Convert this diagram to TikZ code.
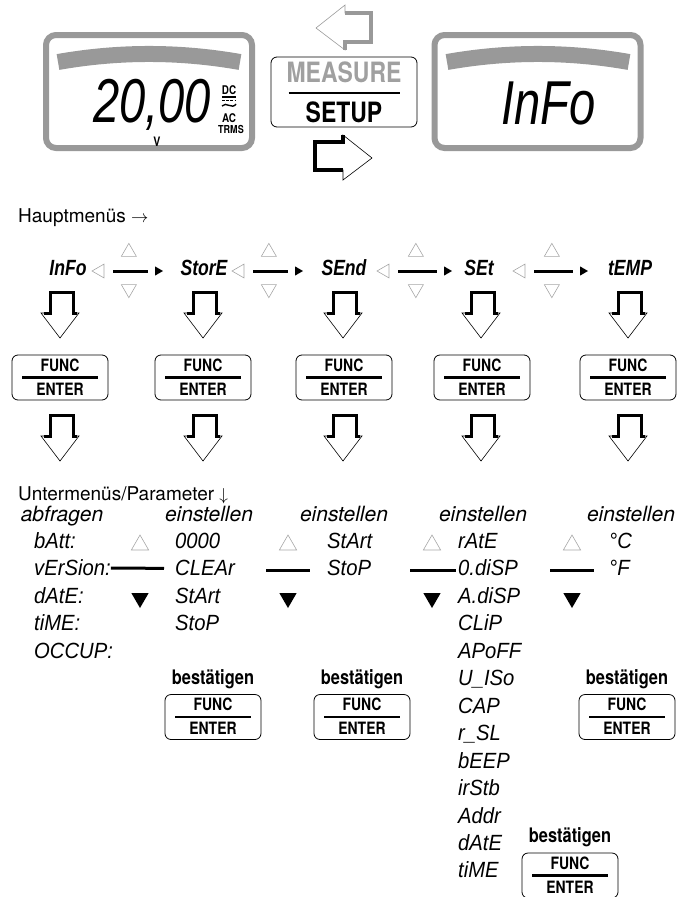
\documentclass[tikz,border=0pt]{standalone}
\usepackage{fontspec}
\setmainfont{TeX Gyre Heros}
\newfontfamily\keyfont{TeX Gyre Heros}[FakeStretch=0.82]
\newfontfamily\segfont{Liberation Sans}[FakeStretch=0.92]
\newfontfamily\menufont{Liberation Sans}[FakeStretch=0.8]
\newfontfamily\lcdfont{Liberation Sans}[FakeStretch=0.76]
\usetikzlibrary{positioning,calc,shapes.geometric}
\definecolor{lcdgray}{HTML}{999999}
\definecolor{trigray}{HTML}{A6A6A6}
\definecolor{capgray}{HTML}{A0A0A0}
\tikzset{
  lcd/.style={draw=lcdgray, line width=6pt, rounded corners=10pt, minimum width=206pt, minimum height=113pt, inner sep=0pt},
  lcdbar/.style={draw=lcdgray, line width=16pt},
  lcdtxt/.style={font={\lcdfont\itshape\fontsize{62}{62}\selectfont}, inner sep=0pt, anchor=base west},
  ind/.style={font={\keyfont\bfseries\fontsize{12}{12}\selectfont}, inner sep=0pt},
  modebox/.style={draw, line width=0.8pt, rounded corners=6pt, minimum width=146pt, minimum height=70pt, inner sep=0pt},
  captxt/.style={font={\keyfont\bfseries\fontsize{28}{28}\selectfont}, inner sep=1.5pt},
  keybtn/.style={draw, line width=0.8pt, rounded corners=6pt, minimum width=96pt, minimum height=45pt, inner sep=0pt},
  keyrule/.style={line width=2.8pt},
  keytxt/.style={font={\keyfont\bfseries\fontsize{17}{17}\selectfont}, inner sep=1.5pt},
  menu/.style={font={\menufont\bfseries\itshape\fontsize{22}{22}\selectfont}, inner sep=0pt},
  sub/.style={font={\segfont\itshape\fontsize{22}{22}\selectfont}, inner sep=0pt, anchor=base west},
  head/.style={font={\fontsize{19}{19}\selectfont}, inner sep=0pt, anchor=base west},
  mode/.style={font={\itshape\fontsize{21}{21}\selectfont}, inner sep=0pt, anchor=base},
  okay/.style={font={\keyfont\bfseries\fontsize{20}{20}\selectfont}, inner sep=0pt, anchor=base},
  link/.style={line width=3pt},
  tri/.style={regular polygon, regular polygon sides=3, inner sep=0pt},
  tril/.style={tri, shape border rotate=90, draw=trigray, line width=0.6pt, minimum size=16pt},
  trir/.style={tri, shape border rotate=-90, fill=black, minimum size=10.6pt},
  triu/.style={tri, draw=trigray, line width=0.6pt, minimum size=17.3pt},
  trid/.style={tri, shape border rotate=180, draw=trigray, line width=0.6pt, minimum size=17.3pt},
  subu/.style={tri, draw=trigray, line width=0.6pt, minimum size=20pt},
  subd/.style={tri, shape border rotate=180, fill=black, minimum size=20pt},
  pics/steparr/.style={code={
    \draw[line width=0.6pt] (-19,21) -- (-10,21) -- (-10,0) -- (13,0) -- (13,21) -- (19,21) -- (0,46) -- cycle;
    \draw[line width=3pt] (-16,21) -- (-10,21) -- (-10,0) -- (13,0) -- (13,21) -- (17,21);
  }},
}

\begin{document}
\begin{tikzpicture}[x=1pt, y=-1pt]
  \useasboundingbox (0,0) rectangle (677,897);

  % displays and mode key
  \node[lcd] (lcdl) at (149,91.5) {};
  \draw[lcdbar] (58,62) .. controls (119,51.3) and (179,51.3) .. (240,62);
  \node[lcdtxt] (val) at (93,122) {20,00};
  \node[ind, font={\keyfont\bfseries\fontsize{13}{13}\selectfont}] (volt) at (157,142) {V};
  \node[ind] (dc) at (229,90) {DC};
  \draw[line width=1.4pt] (222,97) -- (236,97);
  \draw[line width=1.4pt, dash pattern=on 2.6pt off 1.6pt] (222,100.5) -- (236,100.5);
  \draw[line width=1.4pt] (222,106) .. controls (226,101) and (232,110) .. (236,104);
  \node[ind] (ac) at (229,118) {AC};
  \node[ind, font={\keyfont\bfseries\fontsize{11}{11}\selectfont}] (trms) at (231,129) {TRMS};

  \node[lcd] (lcdr) at (537.5,91.5) {};
  \draw[lcdbar] (447,62) .. controls (508,51.3) and (568,51.3) .. (629,62);
  \node[lcdtxt] (info) at (501,124) {InFo};

  \node[modebox] (mode) at (344,92) {};
  \coordinate (mline) at (344,93);
  \draw[keyrule] ([xshift=-55.5pt]mline) -- ([xshift=55.5pt]mline);
  \node[captxt, text=capgray, above=8.5pt] (meas) at (mline) {MEASURE};
  \node[captxt, below=7.5pt] (setup) at (mline) {SETUP};
  \draw[draw=lcdgray, line width=0.6pt] (316,28) -- (345,5) -- (345,13) -- (371,13) -- (371,42) -- (345,42) -- (345,50) -- cycle;
  \draw[draw=lcdgray, line width=4pt] (345,13) -- (371,13) -- (371,42) -- (345,42) -- (345,50);
  \draw[line width=0.6pt] (372,158) -- (343,135) -- (343,142) -- (315,142) -- (315,170) -- (343,170) -- (343,180) -- cycle;
  \draw[line width=4pt] (343,135) -- (343,142) -- (315,142) -- (315,170) -- (343,170);

  % main menus
  \node[head] (hm) at (18,222) {Hauptmenüs $\rightarrow$};
  \foreach \x/\t [count=\i] in {68/InFo, 204/StorE, 344/SEnd, 479/SEt, 630/tEMP}
    \node[menu] (m\i) at (\x,268) {\t};
  \foreach \bx/\fx [count=\i] in {100/157.7, 240/297.7, 385/446.7, 521/582.7} {
    \node[tril] (bk\i) at (\bx,271) {};
    \node[trir] (fw\i) at (\fx,271) {};
    \draw[link, shorten <=9pt, shorten >=7pt] (bk\i) -- (fw\i);
    \coordinate (mid\i) at ($(bk\i)!0.5!(fw\i)$);
    \node[triu] (up\i) at ($(mid\i)+(0,-19)$) {};
    \node[trid] (dn\i) at ($(mid\i)+(0,18)$) {};
  }
  \foreach \x in {60,203,343,481,628} {
    \pic at (\x,292) {steparr};
    \pic at (\x,415) {steparr};
  }
  \foreach \x [count=\i] in {60,203,344,482,628} {
    \node[keybtn] (k\i) at (\x,377.5) {};
    \draw[keyrule] ($(k\i.center)+(-38,0)$) -- ($(k\i.center)+(38,0)$);
    \node[keytxt, above=4.5pt] (kf\i) at (k\i.center) {FUNC};
    \node[keytxt, below=3.5pt] (ke\i) at (k\i.center) {ENTER};
  }

  % sub menus
  \node[head] (um) at (18,500) {Untermenüs/Parameter $\downarrow$};
  \node[mode] (ask) at (62,521) {abfragen};
  \foreach \x [count=\i] in {209,344,483,631}
    \node[mode] (set\i) at (\x,521) {einstellen};
  \foreach \t [count=\k from 0] in {bAtt:, vErSion:, dAtE:, tiME:, OCCUP:}
    \node[sub] (a\k) at (34,{548.5+27.45*\k}) {\t};
  \foreach \t [count=\k from 0] in {0000, CLEAr, StArt, StoP}
    \node[sub] (b\k) at (175,{548.5+27.45*\k}) {\t};
  \foreach \t [count=\k from 0] in {StArt, StoP}
    \node[sub] (c\k) at (327,{548.5+27.45*\k}) {\t};
  \foreach \t [count=\k from 0] in {rAtE, 0.diSP, A.diSP, CLiP, APoFF, U\_ISo, CAP, r\_SL, bEEP, irStb, Addr, dAtE, tiME}
    \node[sub] (d\k) at (458,{548.5+27.45*\k}) {\t};
  \foreach \t [count=\k from 0] in {°C, °F}
    \node[sub] (e\k) at (609,{548.5+27.45*\k}) {\t};

  \draw[link, shorten >=11pt] (a1.east) -- (b1.west);
  \coordinate (j2) at (266,570);
  \coordinate (j3) at (410,570);
  \coordinate (j4) at (550,570);
  \draw[link, shorten >=17pt] (j2) -- (j2 -| c1.west);
  \draw[link, shorten >=2pt] (j3) -- (j3 -| d1.west);
  \draw[link, shorten >=15pt] (j4) -- (j4 -| e1.west);
  \foreach \x [count=\i] in {140,288,432,572} {
    \node[subu] (su\i) at (\x,545) {};
    \node[subd] (sd\i) at (\x,598) {};
  }

  % confirm keys
  \foreach \x/\y [count=\i] in {213/684, 362/684, 627/684, 570/842}
    \node[okay] (ok\i) at (\x,\y) {bestätigen};
  \foreach \x/\y [count=\i] in {213/717, 362/717, 627/717, 570/875.5} {
    \node[keybtn] (q\i) at (\x,\y) {};
    \draw[keyrule] ($(q\i.center)+(-38,0)$) -- ($(q\i.center)+(38,0)$);
    \node[keytxt, above=4.5pt] (qf\i) at (q\i.center) {FUNC};
    \node[keytxt, below=3.5pt] (qe\i) at (q\i.center) {ENTER};
  }
\end{tikzpicture}
\end{document}
